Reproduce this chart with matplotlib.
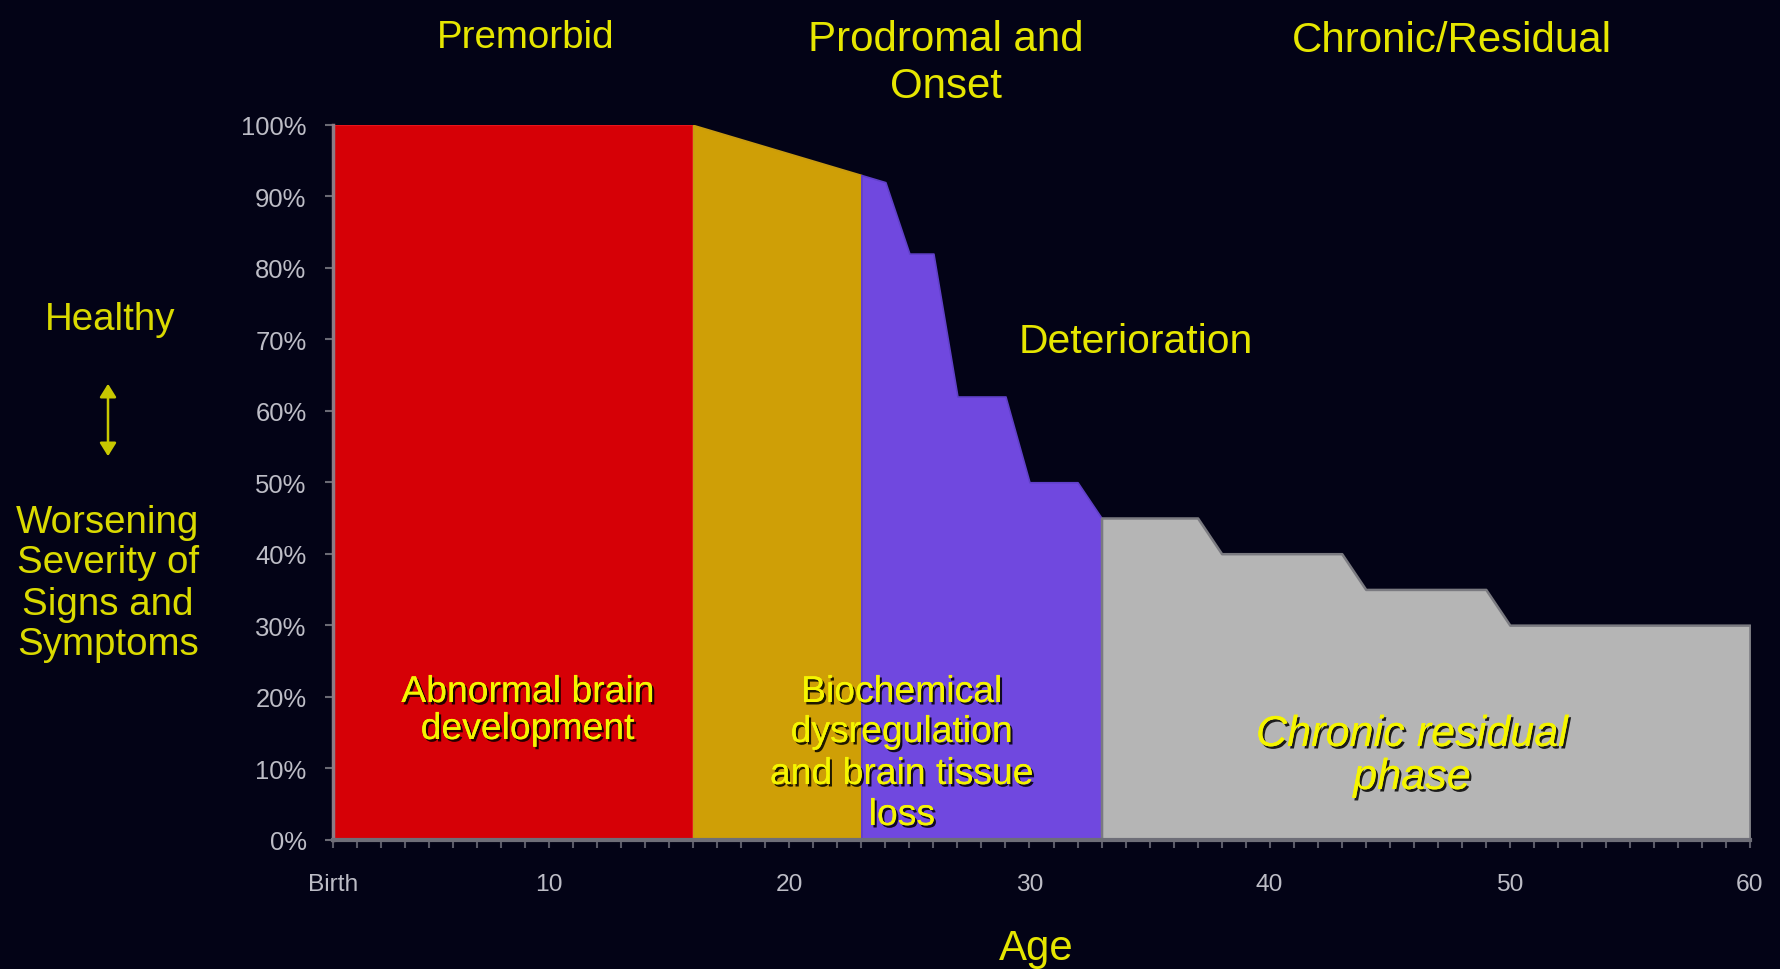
import matplotlib
matplotlib.use("Agg")
import matplotlib.pyplot as plt
import matplotlib.patheffects as pe
from matplotlib import font_manager as fm
from matplotlib.patches import FancyArrowPatch
import numpy as np

# ---------------- data ----------------
red_x = [1, 16]
red_y = [100, 100]
orange_x = [16, 23]
orange_y = [100, 93]
purple_x = [23, 24, 25, 26, 27, 28, 29, 30, 31, 32, 33]
purple_y = [93, 92, 82, 82, 62, 62, 62, 50, 50, 50, 45]
gray_x = [33, 37, 38, 43, 44, 49, 50, 60]
gray_y = [45, 45, 40, 40, 35, 35, 30, 30]

x_tick_pos = [1, 10, 20, 30, 40, 50, 60]
x_tick_labels = ["Birth", "10", "20", "30", "40", "50", "60"]
y_tick_pos = [0, 10, 20, 30, 40, 50, 60, 70, 80, 90, 100]
y_tick_labels = [f"{v}%" for v in y_tick_pos]

phase_titles = ["Premorbid", "Prodromal and\nOnset", "Chronic/Residual"]

# ---------------- fonts ----------------
names = {f.name for f in fm.fontManager.ttflist}
if "Liberation Sans Narrow" in names:
    FAM = ["Liberation Sans Narrow", "DejaVu Sans"]
    K = 1.0
else:
    FAM = ["Liberation Sans", "DejaVu Sans"]
    K = 0.84

W, H = 1781, 970
BG = "#030316"
YEL_T = "#E6E600"
YEL_B = "#F5F500"
TICK_C = "#BDBDC6"

fig = plt.figure(figsize=(W / 100, H / 100), dpi=100, facecolor=BG)

# axes placement (pixel-derived)
x0, x1 = 333, 1750
ytop, ybot = 126, 840.5
ax = fig.add_axes([x0 / W, 1 - ybot / H, (x1 - x0) / W, (ybot - ytop) / H])
ax.set_facecolor(BG)
ax.set_xlim(1, 60)
ax.set_ylim(0, 100)

ax.fill_between(red_x, red_y, 0, facecolor="#D60006", edgecolor="#E8141C", linewidth=1.5, zorder=2)
ax.fill_between(orange_x, orange_y, 0, facecolor="#CF9F06", edgecolor="#C89A10", linewidth=1.2, zorder=2)
ax.fill_between(purple_x, purple_y, 0, facecolor="#7048DF", edgecolor="#6040C8", linewidth=1.2, zorder=2)
ax.fill_between(gray_x, gray_y, 0, facecolor="#B5B5B5", edgecolor="#7A7A80", linewidth=1.8, zorder=2)

for s in ["top", "right"]:
    ax.spines[s].set_visible(False)
ax.spines["left"].set_color("#8C7C86")
ax.spines["left"].set_linewidth(2.5)
ax.spines["bottom"].set_color("#6E6E78")
ax.spines["bottom"].set_linewidth(3)
ax.spines["left"].set_zorder(3)
ax.spines["bottom"].set_zorder(3)

ax.set_xticks(range(1, 61), minor=True)
ax.set_xticks(x_tick_pos)
ax.set_xticklabels(x_tick_labels, family=FAM, fontsize=21 * K, color=TICK_C)
ax.set_yticks(y_tick_pos)
ax.set_yticklabels(y_tick_labels, family=FAM, fontsize=22 * K, color=TICK_C)
ax.tick_params(axis="x", which="both", direction="out", length=6, width=1.5, color="#5A5A68", pad=18)
ax.tick_params(axis="y", which="both", direction="out", length=6, width=1.5, color="#6A6A74", pad=13)

# ---------------- texts ----------------
def ftext(x, y, s, size, color, style="normal", shadow=False):
    kw = {}
    if shadow:
        kw["path_effects"] = [pe.withSimplePatchShadow(offset=(1.6, -1.8), shadow_rgbFace="black", alpha=0.85),
                              pe.Normal()]
    fig.text(x / W, 1 - y / H, s, ha="center", va="baseline", family=FAM, fontsize=size * K,
             color=color, style=style, **kw)

def lines(xc, baselines, text, size, color, style="normal", shadow=False):
    for b, ln in zip(baselines, text.split("\n")):
        ftext(xc, b, ln, size, color, style, shadow)

lines(526, [48], phase_titles[0], 33, YEL_T)
lines(946, [51, 98], phase_titles[1], 36, YEL_T)
lines(1452, [52], phase_titles[2], 36, YEL_T)

ftext(110, 330, "Healthy", 33, "#DADA00")
lines(108, [533, 573, 615, 655], "Worsening\nSeverity of\nSigns and\nSymptoms", 33, "#DADA00")

arrow = FancyArrowPatch((108 / W, 1 - 382 / H), (108 / W, 1 - 460 / H), transform=fig.transFigure,
                        arrowstyle="<|-|>,head_length=4,head_width=2.5", color="#C8C800", lw=1.8,
                        mutation_scale=2)
fig.add_artist(arrow)

ftext(1136, 353, "Deterioration", 35, YEL_T)
lines(528, [703, 740], "Abnormal brain\ndevelopment", 32, YEL_B, shadow=True)
lines(902, [703, 743, 785, 826], "Biochemical\ndysregulation\nand brain tissue\nloss", 32, YEL_B, shadow=True)
lines(1412, [747, 790], "Chronic residual\nphase", 37, YEL_B, style="italic", shadow=True)
ftext(1036, 960, "Age", 36, YEL_T)

fig.savefig("out.png", dpi=100, facecolor=BG)
